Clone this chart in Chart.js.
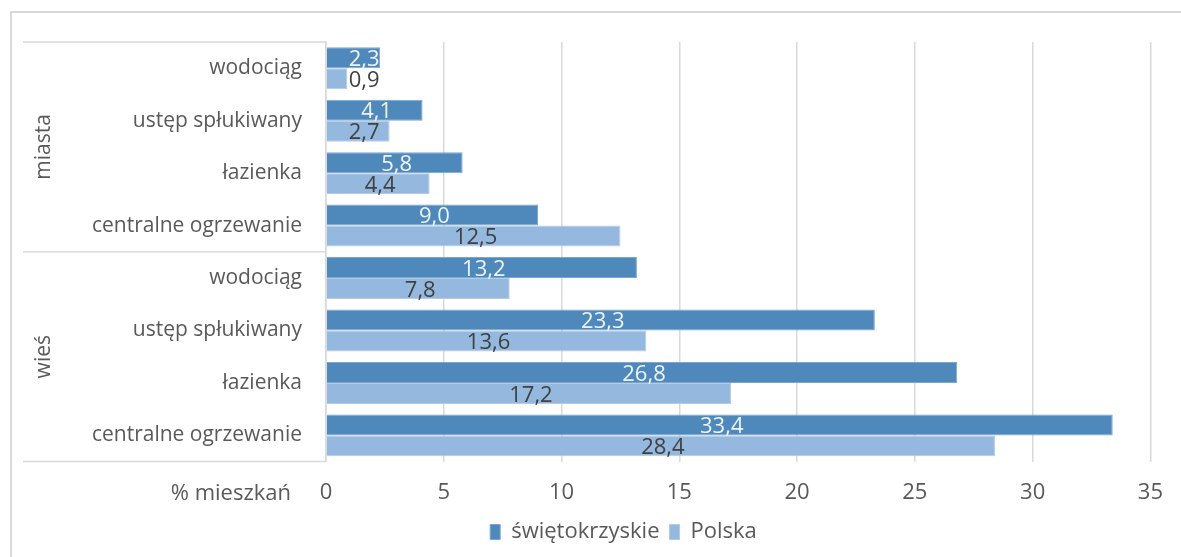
<!DOCTYPE html>
<html>
<head>
<meta charset="utf-8">
<script src="https://cdn.jsdelivr.net/npm/chart.js@4"></script>
<style>
    html, body { margin: 0; padding: 0; background: #fff; overflow: hidden; }
    #frame {
        position: absolute; left: 10px; top: 11px; right: 0; bottom: 0;
        border-left: 2px solid #d9d9d9; border-top: 2px solid #d9d9d9;
    }
    #wrap { position: absolute; left: 0; top: 0; width: 1181px; height: 557px; }
</style>
</head>
<body>
<div id="frame"></div>
<div id="wrap"><canvas id="housingChart"></canvas></div>
<script>
const groups = ['miasta', 'wieś'];
const facilities = ['wodociąg', 'ustęp spłukiwany', 'łazienka', 'centralne ogrzewanie'];
const categories = [...facilities, ...facilities];
const swietokrzyskie = [2.3, 4.1, 5.8, 9.0, 13.2, 23.3, 26.8, 33.4];
const polska = [0.9, 2.7, 4.4, 12.5, 7.8, 13.6, 17.2, 28.4];
const axisTitle = '% mieszkań';

const FONT = "'Open Sans', sans-serif";
const GREY = '#595959';
const LINE = '#d9d9d9';

Chart.defaults.font.family = FONT;
Chart.defaults.color = GREY;

const fmt = v => v.toFixed(1).replace('.', ',');

// value labels, kept off the axis when a bar is too short
const barLabels = {
    id: 'barLabels',
    afterDatasetsDraw(chart) {
        const ctx = chart.ctx;
        ctx.save();
        ctx.font = '22px ' + FONT;
        ctx.textAlign = 'center';
        ctx.textBaseline = 'middle';
        chart.data.datasets.forEach((ds, di) => {
            const meta = chart.getDatasetMeta(di);
            meta.data.forEach((bar, i) => {
                const p = bar.getProps(['x', 'y', 'base'], true);
                const txt = fmt(ds.data[i]);
                const w = ctx.measureText(txt).width;
                const cx = Math.max((p.x + p.base) / 2 + 2, p.base + w / 2 + 22);
                ctx.fillStyle = ds.labelColor;
                ctx.fillText(txt, cx, p.y + 2);
            });
        });
        ctx.restore();
    }
};

// second level of the category axis: group names and separators
const groupAxis = {
    id: 'groupAxis',
    afterLayout(chart) {
        // legend sits centred under the plot rather than the canvas
        const dx = 37, dy = -13;
        chart.legend.left += dx;
        chart.legend.right += dx;
        chart.legend.top += dy;
        chart.legend.bottom += dy;
    },
    afterDraw(chart) {
        const ctx = chart.ctx;
        const y = chart.scales.y;
        const x = chart.scales.x;
        const half = (y.getPixelForValue(1) - y.getPixelForValue(0)) / 2;
        const per = facilities.length;
        ctx.save();
        ctx.strokeStyle = LINE;
        ctx.lineWidth = 1.5;
        for (let g = 0; g <= groups.length; g++) {
            const yy = g < groups.length
                ? y.getPixelForValue(g * per) - half
                : y.getPixelForValue(g * per - 1) + half;
            ctx.beginPath();
            ctx.moveTo(23, yy);
            ctx.lineTo(x.left, yy);
            ctx.stroke();
        }
        ctx.fillStyle = GREY;
        ctx.font = '21px ' + FONT;
        ctx.textAlign = 'center';
        ctx.textBaseline = 'middle';
        groups.forEach((name, g) => {
            const top = y.getPixelForValue(g * per) - half;
            const bottom = y.getPixelForValue(g * per + per - 1) + half;
            ctx.save();
            ctx.translate(44, (top + bottom) / 2);
            ctx.rotate(-Math.PI / 2);
            ctx.fillText(name, 0, 0);
            ctx.restore();
        });
        // value axis title on the tick row
        ctx.textAlign = 'right';
        ctx.font = '22px ' + FONT;
        ctx.fillText(axisTitle, 291, x.top + 32);
        ctx.restore();
    }
};

new Chart(document.getElementById('housingChart'), {
    type: 'bar',
    data: {
        labels: categories,
        datasets: [
            {
                label: 'świętokrzyskie',
                data: swietokrzyskie,
                backgroundColor: '#4f89bc',
                borderColor: '#7aa6d0',
                borderWidth: 1,
                labelColor: '#eef3f9'
            },
            {
                label: 'Polska',
                data: polska,
                backgroundColor: '#95b8de',
                borderColor: '#b3cbe6',
                borderWidth: 1,
                labelColor: '#404040'
            }
        ]
    },
    options: {
        indexAxis: 'y',
        responsive: true,
        maintainAspectRatio: false,
        animation: false,
        categoryPercentage: 0.8,
        barPercentage: 1.0,
        layout: { padding: { left: 20, right: 28, top: 42, bottom: -9 } },
        plugins: {
            tooltip: { enabled: false },
            legend: {
                position: 'bottom',
                labels: {
                    boxWidth: 10,
                    boxHeight: 15,
                    padding: 10,
                    color: GREY,
                    font: { size: 22 }
                }
            }
        },
        scales: {
            x: {
                min: 0,
                max: 35,
                ticks: { stepSize: 5, padding: 18, color: GREY, font: { size: 22 } },
                grid: { color: LINE, lineWidth: 1.5, drawTicks: false },
                border: { display: false }
            },
            y: {
                afterFit(scale) { scale.width = 306; },
                ticks: { padding: 24, color: GREY, font: { size: 21 } },
                grid: { display: false, drawTicks: false },
                border: { display: true, color: LINE, width: 1.5 }
            }
        }
    },
    plugins: [barLabels, groupAxis]
});
</script>
</body>
</html>
